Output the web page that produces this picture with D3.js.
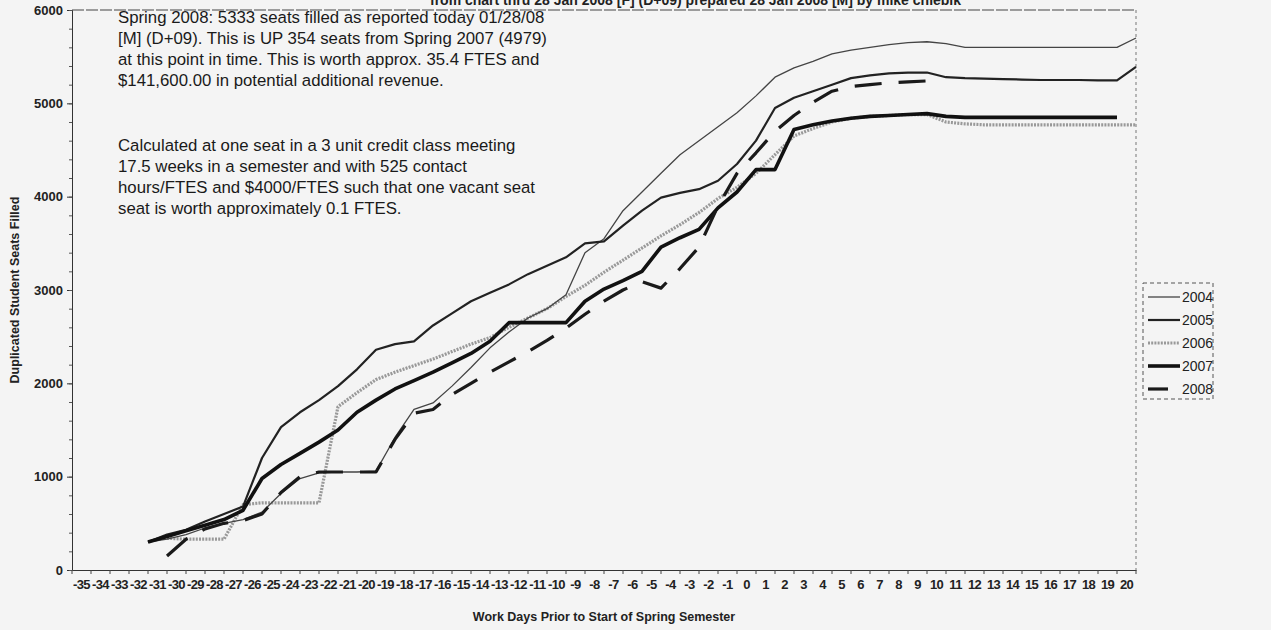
<!DOCTYPE html>
<html><head><meta charset="utf-8">
<script src="https://cdn.jsdelivr.net/npm/d3@7"></script>
<style>
html,body{margin:0;padding:0;background:#f4f4f4;}
svg{display:block;font-family:"Liberation Sans",Arial,sans-serif;}
</style></head><body>
<svg id="c" width="1271" height="630"></svg>
<script>
const categories = ["-35","-34","-33","-32","-31","-30","-29","-28","-27","-26","-25","-24","-23","-22","-21","-20","-19","-18","-17","-16","-15","-14","-13","-12","-11","-10","-9","-8","-7","-6","-5","-4","-3","-2","-1","0","1","2","3","4","5","6","7","8","9","10","11","12","13","14","15","16","17","18","19","20"];
const yTickValues = [0,1000,2000,3000,4000,5000,6000];
const seriesNames = ["2004","2005","2006","2007","2008"];
const s2004 = [null,null,null,300,330,380,450,500,540,620,820,980,1040,1050,1050,1060,1420,1720,1790,1970,2170,2380,2550,2700,2800,2950,3400,3550,3850,4050,4250,4450,4600,4750,4900,5080,5280,5380,5450,5530,5570,5600,5630,5650,5660,5640,5600,5600,5600,5600,5600,5600,5600,5600,5600,5700];
const s2005 = [null,null,null,300,380,430,520,600,680,1200,1530,1690,1820,1970,2150,2360,2420,2450,2620,2750,2880,2970,3060,3170,3260,3350,3500,3520,3690,3850,3990,4040,4080,4170,4350,4600,4950,5060,5130,5200,5270,5300,5320,5330,5330,5280,5270,5265,5260,5255,5250,5250,5250,5245,5245,5390];
const s2006 = [null,null,null,null,340,330,330,330,700,720,720,720,720,1750,1900,2040,2120,2190,2260,2340,2420,2490,2600,2700,2800,2930,3050,3190,3320,3450,3580,3700,3830,3980,4100,4250,4450,4650,4730,4800,4840,4860,4870,4880,4880,4800,4780,4770,4770,4770,4770,4770,4770,4770,4770,4770];
const s2007 = [null,null,null,300,360,420,480,540,640,980,1130,1250,1370,1500,1690,1820,1940,2030,2120,2220,2320,2450,2650,2650,2650,2650,2880,3010,3100,3200,3460,3560,3650,3880,4050,4290,4290,4720,4770,4810,4840,4860,4870,4880,4890,4860,4850,4850,4850,4850,4850,4850,4850,4850,4850,null];
const s2008 = [null,null,null,null,150,330,440,500,530,600,830,1000,1050,1050,1050,1050,1400,1680,1720,1880,2000,2120,2230,2340,2460,2590,2740,2880,3000,3090,3020,3230,3460,3900,4250,4470,4700,4870,5010,5130,5180,5200,5220,5230,5240,null,null,null,null,null,null,null,null,null,null,null];
const noteLines1 = ["Spring 2008: 5333 seats filled as reported today 01/28/08","[M] (D+09). This is UP 354 seats from Spring 2007 (4979)","at this point in time. This is worth approx. 35.4 FTES and","$141,600.00 in potential additional revenue."];
const noteLines2 = ["Calculated at one seat in a 3 unit credit class meeting","17.5 weeks in a semester and with 525 contact","hours/FTES and $4000/FTES such that one vacant seat","seat is worth approximately 0.1 FTES."];
const titleText = "from chart thru 28 Jan 2008 [F] (D+09) prepared 28 Jan 2008 [M] by mike chlebik";
const xTitle = "Work Days Prior to Start of Spring Semester";
const yTitle = "Duplicated Student Seats Filled";

const svg = d3.select("#c");
const L=72, R=1136, T=10, B=570;
const x = d3.scaleBand().domain(categories).range([L,R]);
const xp = c => x(c) + x.bandwidth();   // data points sit on the right tick of each category
const y = d3.scaleLinear().domain([0,6000]).range([B,T]);

// title (cut at top of the page)
svg.append("text").attr("x",430).attr("y",5).attr("font-size",14).attr("font-weight","bold")
  .attr("fill","#222").text(titleText);

// plot border top & right
svg.append("line").attr("x1",L).attr("x2",R).attr("y1",y(6000)).attr("y2",y(6000))
  .attr("stroke","#444").attr("stroke-width",1.2).attr("stroke-dasharray","12,2");
svg.append("line").attr("x1",R).attr("x2",R).attr("y1",y(6000)).attr("y2",y(0))
  .attr("stroke","#777").attr("stroke-width",1).attr("stroke-dasharray","3,3");

// y axis
const yAx = svg.append("g").attr("transform",`translate(${L},0)`)
  .call(d3.axisLeft(y).tickValues(yTickValues).tickSize(5).tickPadding(4).tickFormat(d3.format("d")));
yAx.select(".domain").attr("stroke","#333");
yAx.selectAll("text").attr("font-size",13).attr("font-weight","bold").attr("fill","#222").attr("font-family","Liberation Sans, Arial, sans-serif");
yAx.selectAll(".tick line").attr("stroke","#333");
const yMinor = svg.append("g").attr("transform",`translate(${L},0)`)
  .call(d3.axisLeft(y).ticks(30).tickSize(3).tickFormat(""));
yMinor.select(".domain").remove();
yMinor.selectAll(".tick line").attr("stroke","#555");

// x axis
const xAx = svg.append("g").attr("transform",`translate(0,${B})`)
  .call(d3.axisBottom(x).tickSize(0).tickPadding(10));
xAx.select(".domain").attr("stroke","#333");
xAx.selectAll("text").attr("font-size",13).attr("font-weight","bold").attr("fill","#222")
  .attr("letter-spacing","-0.6").attr("font-family","Liberation Sans, Arial, sans-serif");
svg.append("g").selectAll("line").data(categories).join("line")
  .attr("x1",d=>x(d)).attr("x2",d=>x(d)).attr("y1",B).attr("y2",B+4).attr("stroke","#444");
svg.append("line").attr("x1",R).attr("x2",R).attr("y1",B).attr("y2",B+4).attr("stroke","#444");

// axis titles
svg.append("text").attr("x",(L+R)/2).attr("y",621).attr("text-anchor","middle")
  .attr("font-size",12.5).attr("font-weight","bold").attr("fill","#222").text(xTitle);
svg.append("text").attr("transform",`translate(19,${(T+B)/2}) rotate(-90)`).attr("text-anchor","middle")
  .attr("font-size",12.5).attr("font-weight","bold").attr("fill","#222").text(yTitle);

// annotation
const note = svg.append("g").attr("font-size",16.8).attr("fill","#1a1a1a");
noteLines1.forEach((t,i)=>note.append("text").attr("x",118).attr("y",23+i*21).text(t));
noteLines2.forEach((t,i)=>note.append("text").attr("x",118).attr("y",151+i*21).text(t));

// series
const styles = {
  "2004":{stroke:"#444",w:1.3,dash:null},
  "2005":{stroke:"#222",w:2.2,dash:null},
  "2006":{stroke:"#999",w:3.2,dash:"2,1.2"},
  "2007":{stroke:"#111",w:3.6,dash:null},
  "2008":{stroke:"#1a1a1a",w:3.2,dash:"27,17"}
};
const allSeries = {"2004":s2004,"2005":s2005,"2006":s2006,"2007":s2007,"2008":s2008};
const line = d3.line().defined(d=>d.v!=null).x(d=>xp(d.c)).y(d=>y(d.v));
const order = ["2006","2004","2005","2007","2008"];
order.forEach(k=>{
  const data = categories.map((c,i)=>({c, v: allSeries[k][i]}));
  const st = styles[k];
  svg.append("path").datum(data).attr("d",line).attr("fill","none")
    .attr("stroke",st.stroke).attr("stroke-width",st.w).attr("stroke-linejoin","round")
    .attr("stroke-dasharray",st.dash);
});

// legend
const lg = svg.append("g");
lg.append("rect").attr("x",1143).attr("y",283).attr("width",70).attr("height",116)
  .attr("fill","none").attr("stroke","#555").attr("stroke-width",1).attr("stroke-dasharray","4,3");
seriesNames.forEach((k,i)=>{
  const yy = 297 + i*23;
  const st = styles[k];
  const x1 = 1148, x2 = k==="2008" ? 1168 : 1180;
  lg.append("line").attr("x1",x1).attr("x2",x2).attr("y1",yy).attr("y2",yy)
    .attr("stroke",st.stroke).attr("stroke-width",st.w).attr("stroke-dasharray",k==="2008"?null:st.dash);
  lg.append("text").attr("x",1182).attr("y",yy+5).attr("font-size",14).attr("fill","#222").text(k);
});
</script>
</body></html>
